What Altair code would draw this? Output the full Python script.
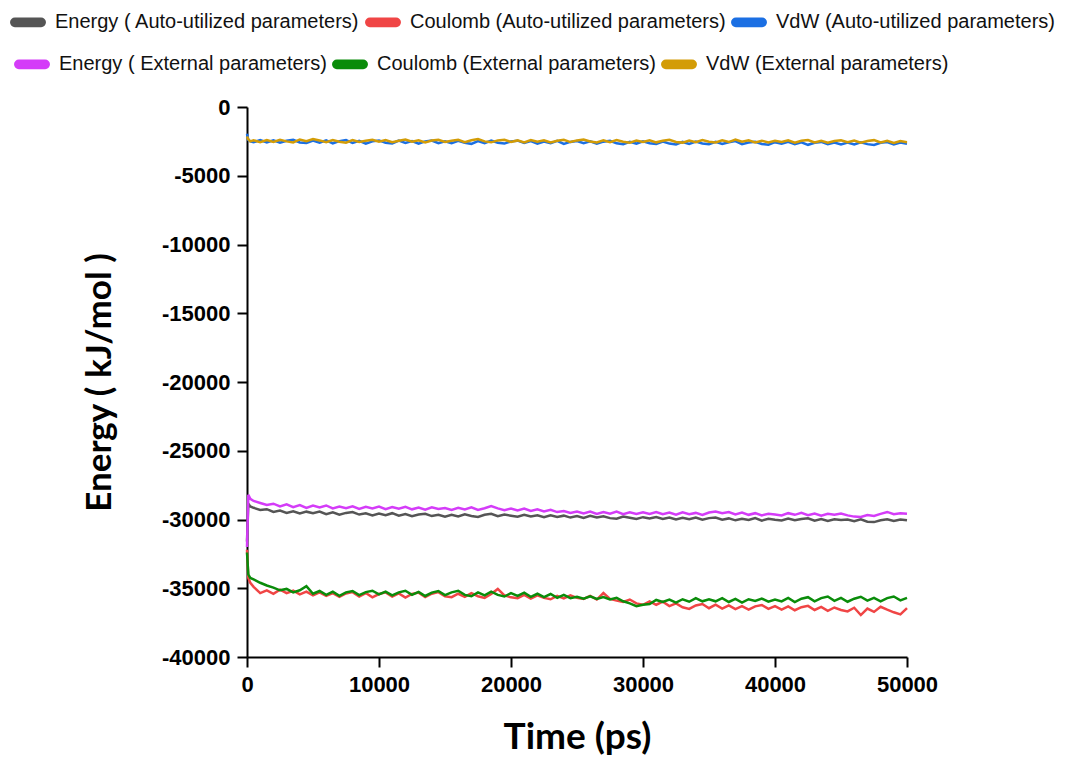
import altair as alt
import pandas as pd

# sampling grid (ps)
time_ps = [0, 100, 250] + list(range(500, 50001, 500))

energy_auto = [
    -31600, -28850, -29050,
    -29150, -29300, -29250, -29450, -29350, -29520, -29400, -29560, -29430, -29540,
    -29420, -29610, -29480, -29650, -29520, -29460, -29640, -29550, -29700, -29560,
    -29680, -29540, -29720, -29600, -29760, -29640, -29580, -29750, -29660, -29800,
    -29650, -29780, -29620, -29740, -29820, -29660, -29590, -29760, -29640, -29720,
    -29800, -29660, -29780, -29700, -29840, -29690, -29810, -29720, -29860, -29740,
    -29880, -29730, -29850, -29760, -29900, -29940, -29790, -29880, -29960, -29830,
    -29930, -29820, -29960, -29850, -30000, -29880, -29980, -29860, -30020, -29900,
    -29860, -30010, -29920, -30060, -29940, -30040, -29900, -30080, -29950, -30020,
    -30070, -29930, -30050, -29960, -29910, -30080, -29970, -30110, -29990, -30040,
    -30000, -30120, -29980, -30160, -30190, -30050, -29990, -30110, -30000, -30060,
]

coulomb_auto = [
    -32200, -34250, -34600,
    -34900, -35350, -35150, -35400, -35100, -35350, -35180, -35450, -35250, -35520,
    -35300, -35550, -35350, -35620, -35380, -35280, -35600, -35350, -35660, -35420,
    -35300, -35600, -35380, -35680, -35420, -35320, -35640, -35400, -35280, -35580,
    -35650, -35400, -35620, -35350, -35580, -35700, -35420, -35050, -35520, -35660,
    -35720, -35480, -35750, -35520, -35700, -35800, -35560, -35740, -35520, -35700,
    -35780, -35560, -35820, -35350, -35780, -35900, -36000, -35820, -36100, -36200,
    -35950, -36200, -35980, -36300, -36100, -36380, -36500, -36250, -36150, -36450,
    -36200, -36480, -36250, -36520, -36300, -36560, -36320, -36220, -36500, -36300,
    -36560, -36320, -36600, -36380, -36280, -36580, -36350, -36640, -36400, -36580,
    -36680, -36420, -36950, -36480, -36720, -36350, -36560, -36750, -36900, -36450,
]

vdw_auto = [
    -1950, -2400, -2500,
    -2560, -2400, -2580, -2430, -2600, -2450, -2380, -2580, -2620, -2440,
    -2600, -2420, -2640, -2480, -2410, -2620, -2460, -2660, -2500, -2430,
    -2600, -2650, -2450, -2610, -2480, -2670, -2500, -2440, -2630, -2490,
    -2640, -2460, -2610, -2680, -2480, -2630, -2440, -2600, -2660, -2500,
    -2450, -2620, -2480, -2660, -2510, -2640, -2460, -2690, -2540, -2480,
    -2640, -2500, -2670, -2520, -2460, -2640, -2700, -2530, -2660, -2490,
    -2630, -2690, -2520, -2660, -2720, -2540, -2680, -2510, -2650, -2710,
    -2540, -2690, -2560, -2480, -2700, -2580, -2530, -2690, -2740, -2560,
    -2670, -2530, -2710, -2570, -2750, -2600, -2540, -2700, -2580, -2720,
    -2590, -2730, -2560, -2700, -2760, -2600, -2550, -2720, -2590, -2680,
]

energy_ext = [
    -32000, -28200, -28500,
    -28650, -28800, -28950, -28850, -29050, -28900, -29100, -28950, -29150, -28980,
    -29120, -28980, -29200, -29050, -29180, -29040, -29230, -29080, -29190, -29060,
    -29250, -29090, -29220, -29080, -29260, -29130, -29290, -29110, -29240, -29160,
    -29300, -29150, -29270, -29120, -29310, -29180, -29020, -29190, -29330, -29200,
    -29340, -29210, -29380, -29260, -29420, -29300, -29460, -29380, -29530, -29420,
    -29560, -29420, -29600, -29460, -29580, -29430, -29610, -29480, -29590, -29470,
    -29600, -29460, -29620, -29500, -29650, -29480, -29610, -29520, -29660, -29490,
    -29420, -29550, -29460, -29630, -29500, -29660, -29540, -29700, -29580, -29640,
    -29700, -29540, -29660, -29520, -29680, -29560, -29720, -29580, -29650, -29560,
    -29700, -29790, -29820, -29680, -29740, -29590, -29450, -29620, -29540, -29580,
]

coulomb_ext = [
    -32400, -34000, -34250,
    -34350, -34600, -34800, -34950, -35150, -35050, -35300, -35150, -34850, -35400,
    -35200, -35480, -35250, -35550, -35300, -35200, -35500, -35280, -35180, -35450,
    -35250, -35520, -35300, -35180, -35480, -35260, -35560, -35320, -35200, -35500,
    -35300, -35180, -35480, -35580, -35300, -35520, -35250, -35480, -35600, -35350,
    -35560, -35320, -35620, -35400, -35650, -35420, -35700, -35480, -35720, -35620,
    -35760, -35580, -35780, -35640, -35820, -35700, -35950, -36100, -36300, -36200,
    -36150, -35850, -36000, -35820, -36050, -35800, -35980, -35720, -35950, -35800,
    -35950, -35720, -36000, -35780, -36050, -35800, -35920, -35750, -35980, -35830,
    -35960, -35700, -36000, -35760, -35650, -35950, -35720, -35600, -35920, -35700,
    -35980, -35760, -35620, -35900, -35700, -35950, -35720, -35600, -35880, -35700,
]

vdw_ext = [
    -2150, -2350, -2500,
    -2420, -2560, -2400, -2540, -2380, -2500, -2580, -2360, -2490, -2330,
    -2430, -2560, -2400, -2520, -2590, -2410, -2540, -2450, -2380, -2530,
    -2410, -2560, -2460, -2360, -2530, -2420, -2580, -2440, -2380, -2540,
    -2450, -2390, -2560, -2420, -2330, -2500, -2570, -2430, -2390, -2540,
    -2430, -2580, -2410, -2530, -2420, -2570, -2450, -2390, -2550, -2430,
    -2360, -2510, -2580, -2430, -2560, -2400, -2520, -2590, -2440, -2550,
    -2420, -2570, -2460, -2380, -2540, -2590, -2440, -2560, -2410, -2520,
    -2580, -2430, -2550, -2370, -2520, -2420, -2570, -2450, -2580, -2460,
    -2540, -2420, -2590, -2460, -2400, -2570, -2450, -2600, -2480, -2420,
    -2560, -2440, -2590, -2470, -2410, -2580, -2460, -2610, -2480, -2560,
]

series_auto = ["Energy ( Auto-utilized parameters)", "Coulomb (Auto-utilized parameters)", "VdW (Auto-utilized parameters)"]
series_ext = ["Energy ( External parameters)", "Coulomb (External parameters)", "VdW (External parameters)"]
colors_auto = ["#555555", "#f04545", "#1b6fe3"]
colors_ext = ["#d43cf8", "#0a8c0a", "#d39c06"]

x_ticks = [0, 10000, 20000, 30000, 40000, 50000]
y_ticks = [0, -5000, -10000, -15000, -20000, -25000, -30000, -35000, -40000]


def to_long(names, arrays):
    rows = []
    for name, arr in zip(names, arrays):
        assert len(arr) == len(time_ps), (name, len(arr))
        for t, v in zip(time_ps, arr):
            rows.append({"time": t, "energy": v, "series": name})
    return pd.DataFrame(rows)


df_auto = to_long(series_auto, [energy_auto, coulomb_auto, vdw_auto])
df_ext = to_long(series_ext, [energy_ext, coulomb_ext, vdw_ext])

x_enc = alt.X(
    "time:Q",
    scale=alt.Scale(domain=[0, 50000], nice=False),
    axis=alt.Axis(values=x_ticks, title="Time (ps)", labelExpr="'' + datum.value",
                  labelFlush=False, labelPadding=7, titlePadding=24, titleFontSize=37),
)
y_enc = alt.Y(
    "energy:Q",
    scale=alt.Scale(domain=[-40000, 0], nice=False),
    axis=alt.Axis(values=y_ticks, title="Energy ( kJ/mol )", labelExpr="'' + datum.value",
                  labelFlush=False, labelPadding=7, titlePadding=44),
)

# stadium-shaped legend symbol (rounded thick stroke)
stadium = ("M-0.75,-0.02L0.75,-0.02A0.02,0.02 0 0 1 0.75,0.02"
           "L-0.75,0.02A0.02,0.02 0 0 1 -0.75,-0.02Z")


def legend(x, y):
    return alt.Legend(
        orient="none", legendX=x, legendY=y, direction="horizontal", title=None,
        symbolType=stadium, symbolStrokeWidth=9, symbolSize=1225,
        labelFont="Liberation Sans", labelFontSize=20, labelColor="#111111",
        labelLimit=600, labelOffset=5, columnPadding=-9, padding=0,
    )


auto_layer = alt.Chart(df_auto).mark_line(strokeWidth=2.5).encode(
    x=x_enc, y=y_enc,
    color=alt.Color("series:N", scale=alt.Scale(domain=series_auto, range=colors_auto),
                    sort=series_auto, legend=legend(-241, -107)),
)
ext_layer = alt.Chart(df_ext).mark_line(strokeWidth=2.5).encode(
    x=x_enc, y=y_enc,
    color=alt.Color("series:N", scale=alt.Scale(domain=series_ext, range=colors_ext),
                    sort=series_ext, legend=legend(-237, -65)),
)

chart = (
    alt.layer(auto_layer, ext_layer)
    .resolve_scale(color="independent")
    .properties(
        width=660, height=550,
        autosize=alt.AutoSizeParams(type="none"),
        padding={"left": 239, "top": 99, "right": 175, "bottom": 100},
    )
    .configure_view(stroke=None)
    .configure_axis(
        grid=False, domainColor="black", domainWidth=2, tickColor="black", tickWidth=2,
        tickSize=10, labelFont="Liberation Sans", labelFontWeight="bold", labelFontSize=22,
        labelColor="black", titleFont="Lato", titleFontWeight="bold", titleFontSize=35,
        titleColor="black",
    )
)

chart.save("out.html", embed_options={"renderer": "svg", "actions": False})
